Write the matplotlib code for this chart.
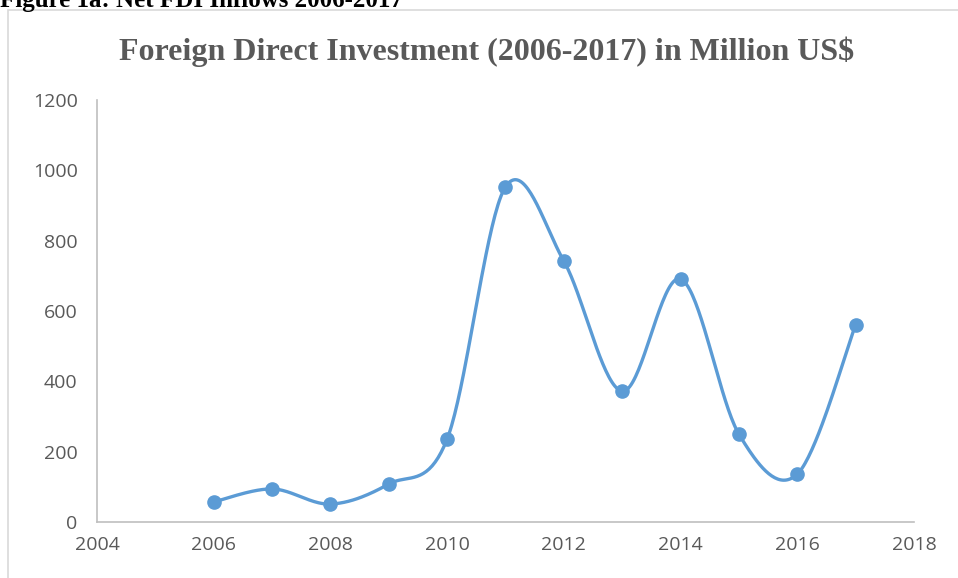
import numpy as np
import matplotlib
matplotlib.use("Agg")
import matplotlib.pyplot as plt
from matplotlib.patches import Rectangle

years = [2006, 2007, 2008, 2009, 2010, 2011, 2012, 2013, 2014, 2015, 2016, 2017]
fdi = [57, 94, 51, 108, 236, 953, 742, 372, 691, 250, 136, 560]
yticks = [0, 200, 400, 600, 800, 1000, 1200]
xticks = [2004, 2006, 2008, 2010, 2012, 2014, 2016, 2018]


def smooth_curve(x, y, n=40):
    # Catmull-Rom style Bezier segments, like a spreadsheet "smoothed line"
    x = np.asarray(x, float)
    y = np.asarray(y, float)
    px = np.concatenate([[x[0]], x, [x[-1]]])
    py = np.concatenate([[y[0]], y, [y[-1]]])
    xs, ys = [], []
    t = np.linspace(0, 1, n)
    for i in range(1, len(px) - 2):
        p0 = np.array([px[i], py[i]])
        p3 = np.array([px[i + 1], py[i + 1]])
        c1 = p0 + (np.array([px[i + 1], py[i + 1]]) - np.array([px[i - 1], py[i - 1]])) / 6
        c2 = p3 - (np.array([px[i + 2], py[i + 2]]) - np.array([px[i], py[i]])) / 6
        b = ((1 - t) ** 3)[:, None] * p0 + (3 * (1 - t) ** 2 * t)[:, None] * c1 \
            + (3 * (1 - t) * t ** 2)[:, None] * c2 + (t ** 3)[:, None] * p3
        xs.extend(b[:, 0])
        ys.extend(b[:, 1])
    return xs, ys


fig = plt.figure(figsize=(9.58, 5.78), dpi=100)
ax = fig.add_axes([0.1013, 0.0969, 0.8527, 0.7301])

# chart frame
fig.patches.append(Rectangle((8 / 958, -0.1), 1.2, 1 - 10 / 578 + 0.1, transform=fig.transFigure,
                             fill=False, edgecolor="#d9d9d9", linewidth=1.2))

line_color = "#5b9bd5"
sx, sy = smooth_curve(years, fdi)
ax.plot(sx, sy, color=line_color, linewidth=2.4, solid_capstyle="round", zorder=2)
ax.plot(years, fdi, "o", color=line_color, markersize=9.5, zorder=3)

ax.set_xlim(2004, 2018)
ax.set_ylim(0, 1200)
ax.set_xticks(xticks)
ax.set_yticks(yticks)
for side in ["top", "right"]:
    ax.spines[side].set_visible(False)
for side in ["left", "bottom"]:
    ax.spines[side].set_color("#bfbfbf")
    ax.spines[side].set_linewidth(1.2)
ax.tick_params(length=0, labelsize=14, labelcolor="#595959", pad=14)
ax.tick_params(axis="x", pad=10)
for lbl in ax.get_xticklabels() + ax.get_yticklabels():
    lbl.set_fontfamily("Open Sans")

fig.text(0.508, 0.911, "Foreign Direct Investment (2006-2017) in Million US$",
         ha="center", va="center", fontsize=23, fontweight="bold",
         family="Liberation Serif", color="#595959")
fig.text(0.0, 1.0, "Figure 1a: Net FDI Inflows 2006-2017", ha="left", va="center",
         fontsize=18, fontweight="bold", family="Liberation Serif", color="black")

fig.savefig("out.png", dpi=100)
